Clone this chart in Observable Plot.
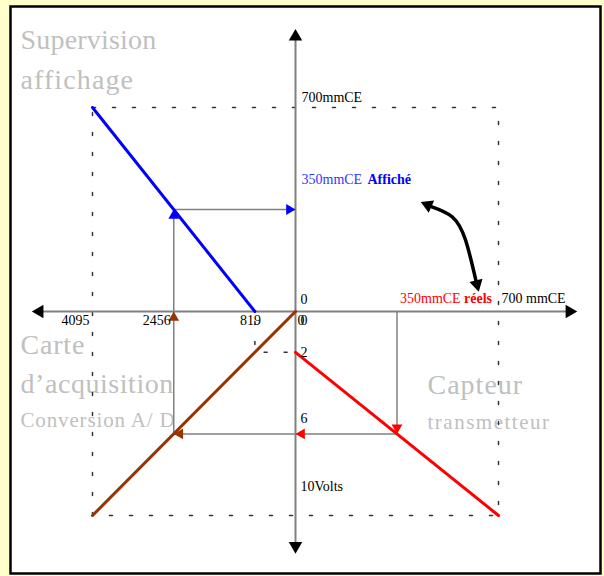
<!DOCTYPE html>
<html>
<head>
<meta charset="utf-8">
<script src="https://cdn.jsdelivr.net/npm/d3@7"></script>
<script src="https://cdn.jsdelivr.net/npm/@observablehq/plot@0.6"></script>
<style>
  html, body { margin: 0; padding: 0; background: #ffffcc; }
  svg { display: block; }
</style>
</head>
<body>
<div id="chart"></div>
<script>
// ---------- data ----------
const countFull = 4095;          // carte d'acquisition, points
const mmFull = 700;              // mmCE
const voltFull = 10;             // Volts

// Supervision : points -> mmCE affiché
const supervisionCounts = [4095, 819];
const supervisionMm = [700, 0];
// Carte d'acquisition : Volts -> points
const acquisitionVolts = [0, 10];
const acquisitionCounts = [0, 4095];
// Capteur transmetteur : mmCE réels -> Volts
const capteurMm = [0, 700];
const capteurVolts = [2, 10];

// worked example
const exampleMm = 350, exampleVolts = 6, exampleCounts = 2456, exampleAffiche = 350;

// tick labels
const countTicks = [4095, 2456];
const countTickLabels = ["4095", "2456"];
const zeroCountTick = 819;

// curved double arrow (in mmCE réels / mmCE affiché units)
const curveMm = [468, 540, 586, 622];
const curveAff = [360, 325, 246, 107];
const curveTipMm = [432, 632];
const curveTipAff = [376, 68];

// ---------- coordinate helpers (quadrant diagram) ----------
const cx = c => -c / countFull;   // left half: points
const mx = m => m / mmFull;       // right half: mmCE réels
const ay = a => a / mmFull;       // upper half: mmCE affiché
const vy = v => -v / voltFull;    // lower half: Volts

// axis extents (relative to full scale)
const axTop = 1.385, axBottom = -1.187, axLeft = -1.299, axRight = 1.388;

const serif = "Liberation Serif";
const spacingByText = new Map();

function head(pt, rotate, r, fill) {
  const h = 2 * Math.sqrt((r * r * Math.PI) / (3 * Math.sqrt(3)));
  const rad = rotate * Math.PI / 180;
  return Plot.dot([pt], {x: "x", y: "y", symbol: "triangle", r, fill, stroke: "none",
    rotate, dx: -h * Math.sin(rad), dy: h * Math.cos(rad)});
}
function grayText(t, dx, dy, size, spacing) {
  spacingByText.set(t, spacing);
  return Plot.text([t], {text: d => d, frameAnchor: "top-left", textAnchor: "start", lineAnchor: "bottom",
    fontFamily: serif, fontSize: size, fill: "#c0c0c0", dx, dy});
}
function label(pt, t, opts) {
  return Plot.text([pt], {x: "x", y: "y", text: () => t, lineAnchor: "bottom", textAnchor: "start",
    fontFamily: serif, fontSize: 14, fill: "black", ...opts});
}

const supervision = supervisionCounts.map((c, i) => ({x: cx(c), y: ay(supervisionMm[i])}));
const acquisition = acquisitionVolts.map((v, i) => ({x: cx(acquisitionCounts[i]), y: vy(v)}));
const capteur = capteurMm.map((m, i) => ({x: mx(m), y: vy(capteurVolts[i])}));
const connector = [
  {x: mx(exampleMm), y: 0},
  {x: mx(exampleMm), y: vy(exampleVolts)},
  {x: cx(exampleCounts), y: vy(exampleVolts)},
  {x: cx(exampleCounts), y: ay(exampleAffiche)},
  {x: 0, y: ay(exampleAffiche)}
];
const guide = [
  {x: cx(zeroCountTick), y: 0},
  {x: cx(zeroCountTick), y: vy(capteurVolts[0])},
  {x: 0, y: vy(capteurVolts[0])}
];
const box = [
  {x: cx(countFull), y: ay(mmFull)},
  {x: mx(mmFull), y: ay(mmFull)},
  {x: mx(mmFull), y: vy(voltFull)},
  {x: cx(countFull), y: vy(voltFull)},
  {x: cx(countFull), y: ay(mmFull)}
];
const curve = curveMm.map((m, i) => ({x: mx(m), y: ay(curveAff[i])}));

const gray = "#808080";

const chart = Plot.plot({
  width: 604, height: 576,
  marginLeft: 10, marginTop: 6, marginRight: 4, marginBottom: 3,
  x: {domain: [-1, 1], range: [92, 498], axis: null},
  y: {domain: [-1, 1], range: [515, 107], axis: null},
  style: {background: "#ffffcc", overflow: "visible"},
  marks: [
    Plot.frame({fill: "white", stroke: "black", strokeWidth: 2.5}),
    grayText("Supervision", 10, 42, 28, 0.2),
    grayText("affichage", 10, 82, 28, 1.1),
    grayText("Carte", 10, 347, 28, 0.8),
    grayText("d\u2019acquisition", 10, 386, 28, 0.55),
    grayText("Conversion A/ D", 10, 420, 21, 0.85),
    grayText("Capteur", 417, 387, 28, 1.0),
    grayText("transmetteur", 417, 422, 21, 1.5),
    // dashed full-scale box
    Plot.line(box, {x: "x", y: "y", stroke: "#333", strokeWidth: 1.5, strokeDasharray: "3,17"}),
    Plot.line(guide, {x: "x", y: "y", stroke: "#333", strokeWidth: 1.5, strokeDasharray: "3,17", strokeDashoffset: 10}),
    // axes
    Plot.line([{x: 0, y: axBottom + 0.03}, {x: 0, y: axTop - 0.03}], {x: "x", y: "y", stroke: gray, strokeWidth: 2}),
    Plot.line([{x: axLeft + 0.03, y: 0}, {x: axRight - 0.03, y: 0}], {x: "x", y: "y", stroke: gray, strokeWidth: 2}),
    head({x: 0, y: axTop}, 0, 5, "black"),
    head({x: 0, y: axBottom}, 180, 5, "black"),
    head({x: axLeft, y: 0}, 270, 5, "black"),
    head({x: axRight, y: 0}, 90, 5, "black"),
    // example connector
    Plot.line(connector, {x: "x", y: "y", stroke: gray, strokeWidth: 1.5}),
    // transfer lines
    Plot.line(supervision, {x: "x", y: "y", stroke: "#0000ff", strokeWidth: 3}),
    Plot.line(acquisition, {x: "x", y: "y", stroke: "#993300", strokeWidth: 3}),
    Plot.line(capteur, {x: "x", y: "y", stroke: "#ff0000", strokeWidth: 3}),
    // connector arrowheads
    head({x: mx(exampleMm), y: vy(exampleVolts)}, 180, 4, "#ff0000"),
    head({x: 0, y: vy(exampleVolts)}, 270, 4, "#ff0000"),
    head({x: cx(exampleCounts), y: vy(exampleVolts)}, 270, 4, "#993300"),
    head({x: cx(exampleCounts), y: 0}, 0, 4, "#993300"),
    head({x: cx(exampleCounts), y: ay(exampleAffiche)}, 0, 4, "#0000ff"),
    head({x: 0, y: ay(exampleAffiche)}, 90, 4, "#0000ff"),
    // curved double arrow
    Plot.line(curve, {x: "x", y: "y", curve: "natural", stroke: "black", strokeWidth: 3.5}),
    head({x: mx(curveTipMm[0]), y: ay(curveTipAff[0])}, -66, 5, "black"),
    head({x: mx(curveTipMm[1]), y: ay(curveTipAff[1])}, 166, 5, "black"),
    // labels
    label({x: 0, y: ay(mmFull)}, "700mmCE", {dx: 6, dy: -6}),
    label({x: 0, y: ay(exampleAffiche)}, "350mmCE", {dx: 6, dy: -26, fill: "#3333ff"}),
    label({x: 0, y: ay(exampleAffiche)}, "Affich\u00e9", {dx: 72, dy: -26, fill: "#0000ff", fontWeight: "bold"}),
    label({x: 0, y: 0}, "0", {dx: 5, dy: -8}),
    label({x: mx(exampleMm), y: 0}, "350mmCE", {dx: 3, dy: -9, fill: "#ff0000"}),
    label({x: mx(exampleMm), y: 0}, "r\u00e9els", {dx: 67, dy: -9, fill: "#ff0000", fontWeight: "bold"}),
    label({x: mx(mmFull), y: 0}, "700 mmCE", {dx: 3, dy: -9}),
    Plot.text(countTicks.map((c, i) => ({x: cx(c), t: countTickLabels[i]})), {x: "x", y: () => 0, text: "t",
      textAnchor: "end", lineAnchor: "bottom", dx: -3, dy: 13, fontFamily: serif, fontSize: 14, fill: "black"}),
    label({x: cx(zeroCountTick), y: 0}, String(zeroCountTick), {dx: 6, dy: 13, textAnchor: "end"}),
    label({x: 0, y: 0}, "0", {dx: 2, dy: 13}),
    label({x: 0, y: 0}, "0", {dx: 5, dy: 13}),
    label({x: 0, y: vy(capteurVolts[0])}, String(capteurVolts[0]), {dx: 5, dy: 5}),
    label({x: 0, y: vy(exampleVolts)}, String(exampleVolts), {dx: 5, dy: -11}),
    label({x: 0, y: vy(voltFull)}, voltFull + "Volts", {dx: 5, dy: -25})
  ]
});
chart.querySelectorAll("text").forEach(el => {
  const s = spacingByText.get(el.textContent);
  if (s !== undefined) {
    el.setAttribute("letter-spacing", s);
    el.style.letterSpacing = s + "px";
  }
});
document.getElementById("chart").appendChild(chart);
</script>
</body>
</html>
